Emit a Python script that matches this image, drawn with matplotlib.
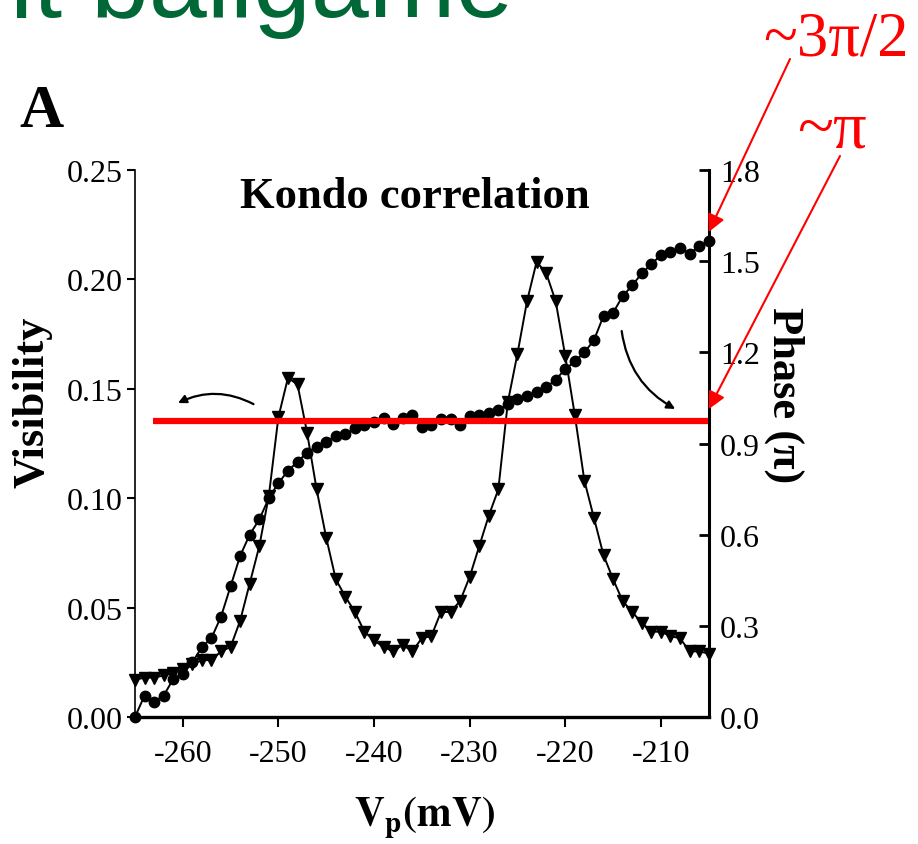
import matplotlib.pyplot as plt

plt.rcParams['font.family'] = ['Liberation Serif', 'DejaVu Serif']
plt.rcParams['axes.unicode_minus'] = False
plt.rcParams['mathtext.fontset'] = 'stix'

# plunger gate voltage (mV)
vp = [-265, -264, -263, -262, -261, -260, -259, -258, -257, -256,
      -255, -254, -253, -252, -251, -250, -249, -248, -247, -246,
      -245, -244, -243, -242, -241, -240, -239, -238, -237, -236,
      -235, -234, -233, -232, -231, -230, -229, -228, -227, -226,
      -225, -224, -223, -222, -221, -220, -219, -218, -217, -216,
      -215, -214, -213, -212, -211, -210, -209, -208, -207, -206,
      -205]

visibility = [0.017, 0.018, 0.018, 0.019, 0.020, 0.022, 0.024, 0.026, 0.026, 0.030,
              0.032, 0.044, 0.061, 0.078, 0.101, 0.137, 0.155, 0.152, 0.130, 0.104,
              0.082, 0.063, 0.055, 0.048, 0.039, 0.035, 0.032, 0.030, 0.033, 0.030,
              0.036, 0.037, 0.048, 0.048, 0.053, 0.064, 0.078, 0.092, 0.104, 0.144,
              0.166, 0.190, 0.208, 0.203, 0.190, 0.165, 0.138, 0.108, 0.091, 0.074,
              0.063, 0.053, 0.048, 0.043, 0.039, 0.039, 0.037, 0.036, 0.030, 0.030,
              0.029]

# phase in units of pi
phase = [0.00, 0.07, 0.05, 0.07, 0.125, 0.14, 0.18, 0.23, 0.26, 0.33,
         0.43, 0.53, 0.60, 0.65, 0.72, 0.77, 0.81, 0.84, 0.87, 0.89,
         0.905, 0.925, 0.93, 0.95, 0.96, 0.97, 0.985, 0.965, 0.985, 0.995,
         0.955, 0.96, 0.98, 0.98, 0.96, 0.99, 0.995, 1.00, 1.01, 1.03,
         1.045, 1.055, 1.07, 1.085, 1.11, 1.145, 1.17, 1.20, 1.24, 1.32,
         1.33, 1.385, 1.42, 1.46, 1.49, 1.52, 1.53, 1.545, 1.525, 1.55,
         1.565]

plateau = 0.975
plateau_span = (-263.1, -205.1)
mark_3pi2 = 1.596
mark_pi = 1.013

fig = plt.figure(figsize=(9.18, 8.45), dpi=100)
ax = fig.add_axes([0.147, 0.1503, 0.625, 0.6473])
ax2 = ax.twinx()

ax.plot(vp, visibility, color='k', lw=1.4, marker='v', ms=8.5, clip_on=False, zorder=3)
ax2.plot(vp, phase, color='k', lw=1.4, marker='o', ms=7.5, clip_on=False, zorder=3)
ax2.hlines(plateau, *plateau_span, color='red', lw=4.5, zorder=5)

ax.set_xlim(-265, -205)
ax.set_ylim(0, 0.25)
ax2.set_ylim(0, 1.8)

ax.set_xticks([-260, -250, -240, -230, -220, -210])
ax.set_yticks([0, 0.05, 0.10, 0.15, 0.20, 0.25])
ax.set_yticklabels(['0.00', '0.05', '0.10', '0.15', '0.20', '0.25'])
ax2.set_yticks([0, 0.3, 0.6, 0.9, 1.2, 1.5, 1.8])
ax2.set_yticklabels(['0.0', '0.3', '0.6', '0.9', '1.2', '1.5', '1.8'])

for a in (ax, ax2):
    a.spines['top'].set_visible(False)
ax.spines['left'].set_linewidth(1.2)
ax.spines['bottom'].set_linewidth(2.4)
ax2.spines['right'].set_linewidth(2.2)
ax2.spines['left'].set_visible(False)
ax2.spines['bottom'].set_visible(False)

ax.tick_params(axis='y', direction='out', length=6, width=1.5, labelsize=23, pad=3)
ax.tick_params(axis='x', direction='out', length=7, width=1.5, labelsize=23, pad=9)
ax2.tick_params(axis='y', direction='in', length=7, width=2, labelsize=23, pad=8)

ax.text(0.488, 0.932, 'Kondo correlation', transform=ax.transAxes,
        ha='center', va='baseline', fontsize=32, fontweight='bold')
ax.text(-0.143, 0.578, 'Visibility', transform=ax.transAxes, rotation=90,
        ha='right', va='center', fontsize=32, fontweight='bold')
ax.text(1.132, 0.59, 'Phase (π)', transform=ax.transAxes, rotation=-90,
        ha='center', va='center', fontsize=32, fontweight='bold')
ax.text(0.505, -0.182, r'$\mathbf{V_p(mV)}$', transform=ax.transAxes,
        ha='center', va='center', fontsize=30)

fig.text(19 / 918, 1 - 127 / 845, 'A', ha='left', va='baseline',
         fontsize=44, fontweight='bold')

# curved arrows pointing to each curve's axis
ax.annotate('', xy=(-260.5, 0.1435), xytext=(-252.6, 0.143),
            arrowprops=dict(arrowstyle='-|>', color='k', lw=1.6, mutation_scale=12,
                            connectionstyle='arc3,rad=0.25', shrinkA=0, shrinkB=0))
ax.annotate('', xy=(-208.5, 0.1408), xytext=(-214.1, 0.1764),
            arrowprops=dict(arrowstyle='-|>', color='k', lw=1.6, mutation_scale=12,
                            connectionstyle='arc3,rad=0.25', shrinkA=0, shrinkB=0))

# red phase markers
fig.text(763 / 918, 1 - 55 / 845, '~3π/2', color='red', ha='left', va='baseline', fontsize=45)
fig.text(797 / 918, 1 - 147 / 845, '~π', color='red', ha='left', va='baseline', fontsize=48)
ax2.annotate('', xy=(-205, mark_3pi2), xytext=(790 / 918, 1 - 60 / 845),
             textcoords='figure fraction', annotation_clip=False,
             arrowprops=dict(arrowstyle='-|>', color='red', lw=1.5, mutation_scale=26,
                             shrinkA=0, shrinkB=0))
ax2.annotate('', xy=(-205, mark_pi), xytext=(840 / 918, 1 - 157 / 845),
             textcoords='figure fraction', annotation_clip=False,
             arrowprops=dict(arrowstyle='-|>', color='red', lw=1.5, mutation_scale=26,
                             shrinkA=0, shrinkB=0))

fig.text(513 / 918, 1 - 17 / 845, 'it ballgame', ha='right', va='baseline',
         fontsize=75, color='#006837', family='Liberation Sans')

fig.savefig('out.png', dpi=100)
